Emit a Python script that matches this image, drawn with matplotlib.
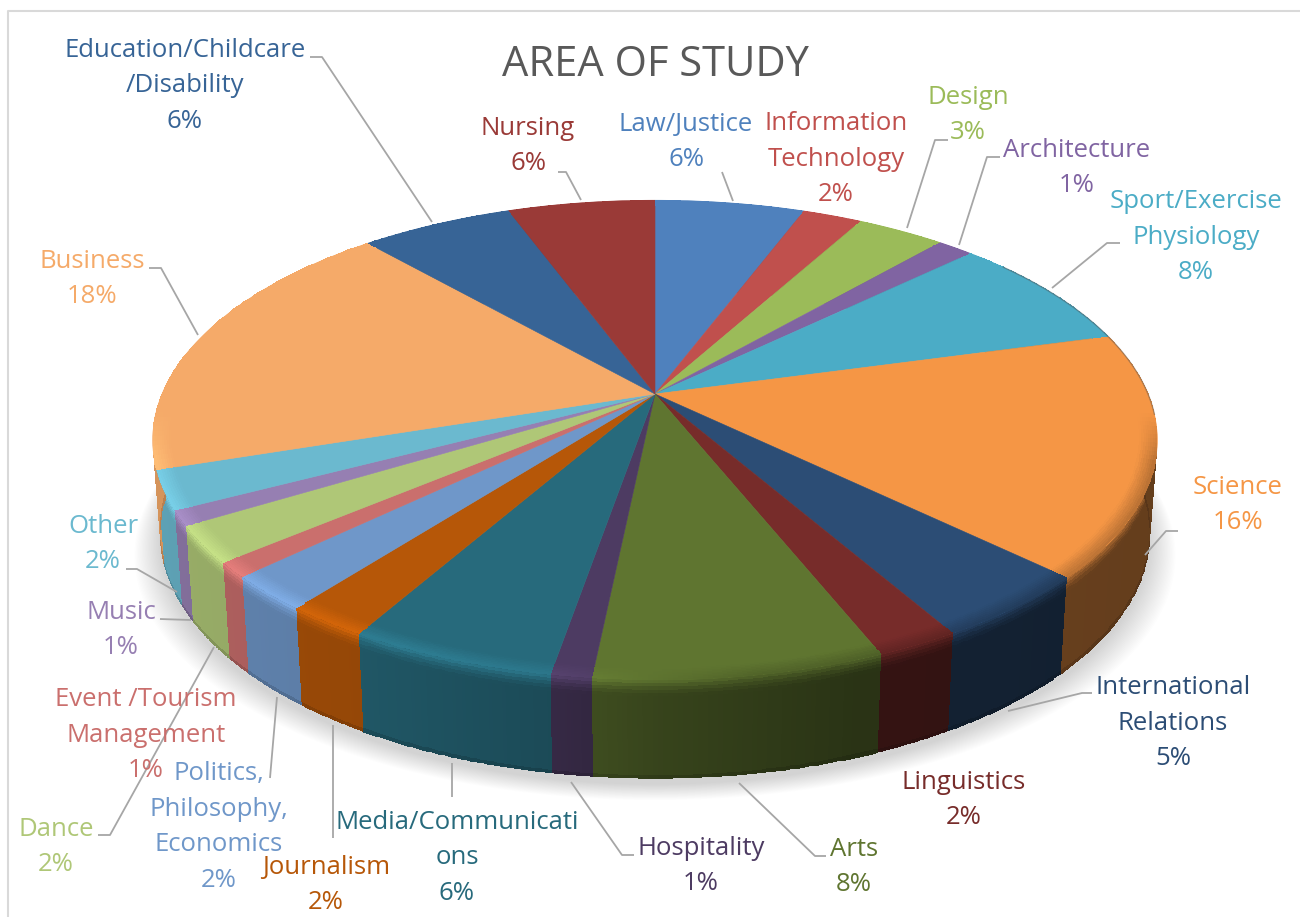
import numpy as np
import matplotlib
matplotlib.use("Agg")
import matplotlib.pyplot as plt
from matplotlib.colors import to_rgb

plt.rcParams['font.family'] = ['Open Sans', 'DejaVu Sans']

# slices, clockwise from the top of the pie
categories = ['Law/Justice', 'Information\nTechnology', 'Design', 'Architecture',
              'Sport/Exercise\nPhysiology', 'Science', 'International\nRelations',
              'Linguistics', 'Arts', 'Hospitality', 'Media/Communicati\nons',
              'Journalism', 'Politics,\nPhilosophy,\nEconomics', 'Event /Tourism\nManagement',
              'Dance', 'Music', 'Other', 'Business', 'Education/Childcare\n/Disability', 'Nursing']
# slice sizes, labels as printed on it
shares = [5.8, 2.3, 3.4, 1.4, 7.9, 16.3, 4.5, 2.25, 7.8, 1.1,
          5.6, 2.25, 2.35, 1.0, 2.45, 1.0, 2.6, 18.4, 5.9, 5.7]
pct_labels = ['6%', '2%', '3%', '1%', '8%', '16%', '5%', '2%', '8%', '1%',
              '6%', '2%', '2%', '1%', '2%', '1%', '2%', '18%', '6%', '6%']
colors = ['#4F81BD', '#C0504D', '#9BBB59', '#8064A2', '#4BACC6', '#F59645', '#2C4D75',
          '#772C2A', '#5F7530', '#4D3B62', '#276A7C', '#B65708', '#6F97C9', '#CA6F6D',
          '#AFC777', '#967FB2', '#6BB9CF', '#F5AA69', '#376496', '#9A3A37']

# label block centres in pixels, same order as categories
label_x = [686, 836, 968, 1077, 1196, 1238, 1173, 964, 854, 701, 457, 326, 219, 146, 56, 121, 103, 92, 185, 528]
label_y = [142, 159, 115, 168, 237, 505, 723, 800, 867, 866, 858, 885, 827, 735, 847, 630, 544, 279, 86, 146]

# leader lines in pixels
leaders = [
    [(722, 172), (733, 201)],
    [(948, 140), (935, 140), (907, 228)],
    [(1000, 157), (987, 157), (959, 245)],
    [(1120, 243), (1107, 243), (1052, 288)],
    [(1178, 531), (1166, 531), (1145, 555)],
    [(1092, 693), (1082, 693), (1008, 711)],
    [(826, 856), (815, 856), (739, 783)],
    [(634, 855), (622, 855), (571, 782)],
    [(452, 797), (452, 763)],
    [(333, 838), (333, 725)],
    [(270, 778), (277, 697)],
    [(98, 835), (110, 835), (214, 647)],
    [(160, 619), (191, 620)],
    [(126, 569), (137, 569), (177, 592)],
    [(310, 57), (322, 57), (432, 222)],
    [(149, 268), (161, 268), (198, 335)],
    [(558, 172), (566, 172), (581, 200)],
]

# perspective of the disc
CX, CY = 655, 394
A, B, K = 493, 231, 0.192
DEPTH = 93


def top_xy(t, r=1.0):
    u, v = r * np.sin(t), r * np.cos(t)
    w = 1 + K * v
    return CX + A * u / w, CY - B * v / w


def bottom_xy(t):
    u, v = np.sin(t), np.cos(t)
    w = 1 + K * v
    return CX + 0.985 * A * u / w, CY + DEPTH - 1.02 * B * v / w


def side_shade(dx):
    return np.interp(dx, [-500, -300, -100, 0, 200, 500], [0.87, 0.82, 0.70, 0.58, 0.44, 0.41])


def rim_shade(dx):
    return np.interp(dx, [-500, -250, -100, 100, 500], [1.12, 1.18, 1.12, 0.85, 0.75])


fig = plt.figure(figsize=(13, 9.17), dpi=100)
ax = fig.add_axes([0, 0, 1, 1])
ax.set_xlim(0, 1300)
ax.set_ylim(917, 0)
ax.axis('off')

# chart frame, runs off the canvas on the right and bottom
ax.plot([8, 8, 1310], [930, 11, 11], color='#D9D9D9', lw=1.5, zorder=1)

# soft shadow under the pie
all_t = np.linspace(0, 2 * np.pi, 400)
bx, by = bottom_xy(all_t)
for grow in np.linspace(26, 0, 22):
    ax.fill(CX + (bx - CX) * (1 + grow / 500), by + 6 + grow * 0.6,
            color='black', alpha=0.009, lw=0, zorder=1)

edges = np.cumsum([0] + shares) / sum(shares) * 2 * np.pi
rows = np.linspace(0, 1, 31)

for i, name in enumerate(categories):
    t = np.linspace(edges[i], edges[i + 1], 60)
    base = np.array(to_rgb(colors[i]))
    tx, ty = top_xy(t)
    lx, ly = bottom_xy(t)

    # side wall
    X = tx[None, :] + rows[:, None] * (lx - tx)[None, :]
    Y = ty[None, :] + rows[:, None] * (ly - ty)[None, :]
    mid_t = (t[:-1] + t[1:]) / 2
    dx = top_xy(mid_t)[0] - CX
    side = base[None, :] * side_shade(dx)[:, None]
    peak = np.clip(base[None, :] * rim_shade(dx)[:, None], 0, 1)
    mid_row = (rows[:-1] + rows[1:]) / 2
    blend = np.clip(1 - mid_row / 0.16, 0, 1)[:, None, None] ** 1.5
    C = side[None, :, :] * (1 - blend) + peak[None, :, :] * blend
    C = C * np.interp(mid_row, [0, 0.95, 1], [1, 1, 0.8])[:, None, None]
    ax.pcolormesh(X, Y, np.clip(C, 0, 1), shading='flat', zorder=2)

    # top face
    ax.fill(np.r_[CX, tx], np.r_[CY, ty], color=colors[i], lw=0.4, zorder=3)

    # rounded rim on the near half
    rr = np.linspace(0.965, 1, 9)
    X = np.array([top_xy(t, r)[0] for r in rr])
    Y = np.array([top_xy(t, r)[1] for r in rr])
    fade = np.clip((-0.08 - np.cos(mid_t)) / 0.2, 0, 1)[:, None]
    mid_r = ((rr[:-1] + rr[1:]) / 2 - 0.965) / 0.035
    target = base[None, :] * (1 - fade) + peak * fade
    C = base[None, None, :] * (1 - mid_r[:, None, None]) + target[None, :, :] * mid_r[:, None, None]
    ax.pcolormesh(X, Y, C, shading='flat', zorder=4)

    # label
    ax.text(label_x[i], label_y[i], f'{name}\n{pct_labels[i]}', color=colors[i], fontsize=18.5,
            ha='center', va='center', ma='center', linespacing=1.55, zorder=6)

# thin dark edge on the upper right
t = np.linspace(edges[4] + 0.1, edges[5] + 0.35, 50)
ax.plot(*top_xy(t), color='#555555', lw=1, alpha=0.45, zorder=5)

for pts in leaders:
    xs, ys = zip(*pts)
    ax.plot(xs, ys, color='#A6A6A6', lw=1.3, zorder=5, solid_capstyle='butt')

ax.text(655, 65, 'AREA OF STUDY', color='#595959', fontsize=30, ha='center', va='center', zorder=6)

fig.savefig('out.png', dpi=100)
